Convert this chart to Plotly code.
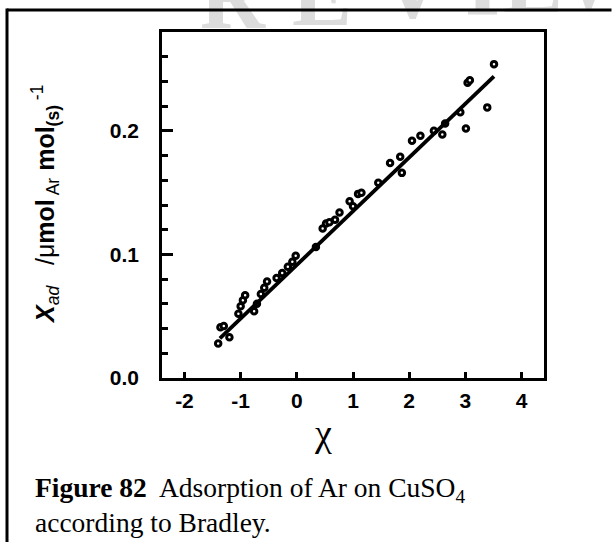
import plotly.graph_objects as go

# Bradley isotherm for Ar on CuSO4: chi vs adsorbed amount
chi = [-1.40, -1.36, -1.30, -1.20, -1.04, -1.00, -0.96, -0.92, -0.76, -0.71,
       -0.64, -0.58, -0.53, -0.36, -0.26, -0.16, -0.08, -0.02, 0.34, 0.46,
       0.52, 0.58, 0.68, 0.76, 0.94, 1.00, 1.09, 1.15, 1.45, 1.66,
       1.84, 1.87, 2.05, 2.20, 2.44, 2.59, 2.64, 2.91, 3.01, 3.04,
       3.08, 3.39, 3.51]
x_ad = [0.028, 0.041, 0.042, 0.033, 0.052, 0.058, 0.063, 0.067, 0.054, 0.060,
        0.068, 0.073, 0.078, 0.081, 0.085, 0.090, 0.094, 0.099, 0.106, 0.121,
        0.125, 0.126, 0.128, 0.134, 0.143, 0.139, 0.149, 0.150, 0.158, 0.174,
        0.179, 0.166, 0.192, 0.196, 0.200, 0.197, 0.206, 0.215, 0.202, 0.239,
        0.241, 0.219, 0.254]

# straight-line fit through the data
fit_chi = [-1.37, 3.51]
fit_x_ad = [0.032, 0.244]

x_ticks = [-2, -1, 0, 1, 2, 3, 4]
x_tick_text = ["-2", "-1", "0", "1", "2", "3", "4"]
y_ticks = [0.0, 0.1, 0.2]
y_tick_text = ["0.0", "0.1", "0.2"]

# faint watermark letters along the top edge (page pixel centres)
wm_letters = ["R", "E", "V", "I", "E", "W"]
wm_x = [233, 322, 412, 482, 533, 605]
wm_y = [-3, -6, -12, -16, -19, -22]

W, H = 613, 542
L, R, T, B = 162, 544, 32, 378


def px(x):
    return (x - L) / (R - L)


def py(y):
    return (B - y) / (B - T)


fig = go.Figure()
fig.add_trace(go.Scatter(
    x=chi, y=x_ad, mode="markers",
    marker=dict(symbol="circle", size=5.5, color="white",
                line=dict(color="black", width=3)),
    hoverinfo="skip"))
fig.add_trace(go.Scatter(
    x=fit_chi, y=fit_x_ad, mode="lines",
    line=dict(color="black", width=3.8), hoverinfo="skip"))

axis_font = dict(family="Liberation Sans, Arial", size=21, color="black",
                 weight="bold")

fig.update_layout(
    width=W, height=H,
    margin=dict(l=L, r=W - R, t=T, b=H - B),
    paper_bgcolor="white", plot_bgcolor="white",
    showlegend=False,
    xaxis=dict(range=[-2.4, 4.4], tickmode="array", tickvals=x_ticks,
               ticktext=x_tick_text,
               ticks="inside", ticklen=6, tickwidth=2.5, tickcolor="black",
               showline=True, linewidth=2.5, linecolor="black", mirror=True,
               showgrid=False, zeroline=False, tickfont=axis_font,
               ticklabelstandoff=2),
    yaxis=dict(range=[0, 0.28], tickmode="array", tickvals=y_ticks,
               ticktext=y_tick_text,
               ticks="inside", ticklen=11, tickwidth=2.5, tickcolor="black",
               minor=dict(ticks="inside", ticklen=6, tickwidth=2.5,
                          tickcolor="black", tickmode="linear",
                          tick0=0, dtick=0.02),
               showline=True, linewidth=2.5, linecolor="black", mirror=True,
               showgrid=False, zeroline=False, tickfont=axis_font,
               ticklabelstandoff=16),
)

# watermark first, so the frame drawn afterwards sits on top of it
for ch, xx, yy in zip(wm_letters, wm_x, wm_y):
    fig.add_annotation(x=px(xx), y=py(yy), xref="paper", yref="paper",
                       text=ch, showarrow=False, xanchor="center",
                       yanchor="middle",
                       font=dict(family="Liberation Serif", size=90,
                                 color="#dcdcdc", weight="bold"))

# outer frame: top edge as an arrow-less annotation line, left edge as shape
fig.add_annotation(x=px(7), y=py(10), xref="paper", yref="paper", text="",
                   showarrow=True, arrowhead=0, arrowwidth=3,
                   arrowcolor="black", axref="pixel", ayref="pixel",
                   ax=W + 10, ay=0, standoff=0, startstandoff=0)
fig.add_shape(type="line", xref="paper", yref="paper",
              x0=px(7), y0=py(8.5), x1=px(7), y1=py(H + 5),
              line=dict(color="black", width=3))

# y-axis title
fig.add_annotation(
    x=px(45), y=py(205), xref="paper", yref="paper", showarrow=False,
    textangle=-90, xanchor="center", yanchor="middle",
    text=("<b><i>X</i></b><sub><i>ad</i></sub>   /μ<b>mol</b><sub> Ar</sub>"
          " <b>mol</b><sub><b>(s)</b></sub><sup> -1</sup>"),
    font=dict(family="Liberation Sans, Arial", size=25, color="black"))

# x-axis title
fig.add_annotation(
    x=px(323), y=py(433), xref="paper", yref="paper", showarrow=False,
    xanchor="center", yanchor="middle", text="χ",
    font=dict(family="Liberation Serif, Times New Roman", size=38,
              color="black"))

# caption
cap_font = dict(family="Liberation Serif, Times New Roman", size=27.5,
                color="black")
fig.add_annotation(
    x=px(33), y=py(489), xref="paper", yref="paper", showarrow=False,
    xanchor="left", yanchor="middle", font=cap_font,
    text="<b>Figure 82</b>  Adsorption of Ar on CuSO<sub>4</sub>")
fig.add_annotation(
    x=px(33), y=py(522), xref="paper", yref="paper", showarrow=False,
    xanchor="left", yanchor="middle", font=cap_font,
    text="according to Bradley.")

fig.write_html("out.html")
